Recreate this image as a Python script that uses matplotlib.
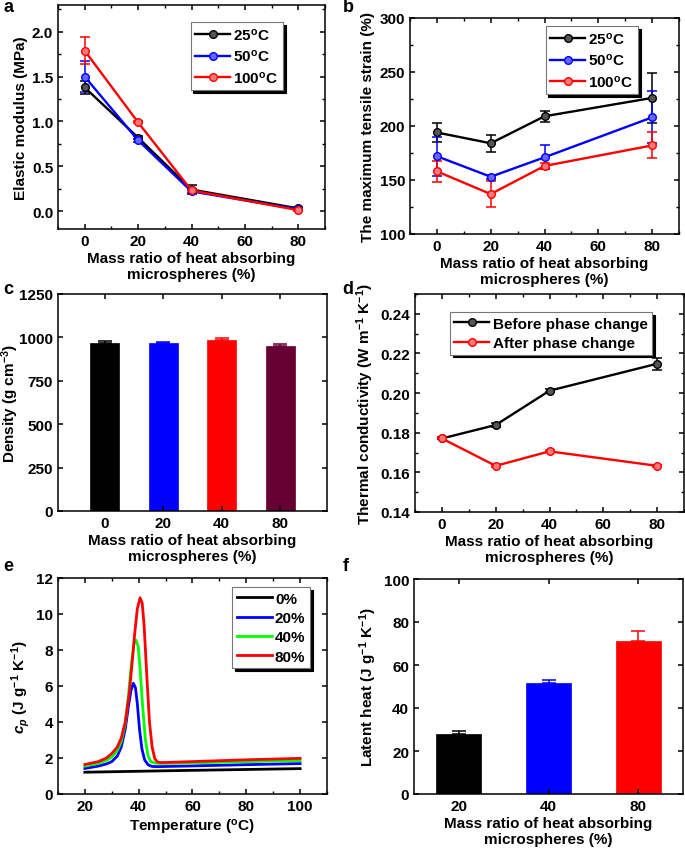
import matplotlib.pyplot as plt
from matplotlib.ticker import MultipleLocator

plt.rcParams['font.family'] = ['Liberation Sans', 'DejaVu Sans']
plt.rcParams['font.weight'] = 'bold'
plt.rcParams['axes.labelweight'] = 'bold'
plt.rcParams['font.size'] = 11
plt.rcParams['mathtext.fontset'] = 'custom'
plt.rcParams['mathtext.rm'] = 'Liberation Sans:bold'
plt.rcParams['mathtext.it'] = 'Liberation Sans:italic:bold'
plt.rcParams['mathtext.bf'] = 'Liberation Sans:bold'
plt.rcParams['mathtext.default'] = 'rm'
plt.rcParams['axes.linewidth'] = 1.1
plt.rcParams['xtick.direction'] = 'in'
plt.rcParams['ytick.direction'] = 'in'
plt.rcParams['xtick.top'] = True
plt.rcParams['ytick.right'] = True
plt.rcParams['xtick.major.size'] = 3.5
plt.rcParams['ytick.major.size'] = 3.5
plt.rcParams['xtick.minor.size'] = 2
plt.rcParams['ytick.minor.size'] = 2
plt.rcParams['xtick.major.width'] = 1.1
plt.rcParams['ytick.major.width'] = 1.1
plt.rcParams['xtick.minor.width'] = 1
plt.rcParams['ytick.minor.width'] = 1

# data
ratio = [0, 20, 40, 80]
temp_labels = ['25$^o$C', '50$^o$C', '100$^o$C']

mod_25 = [1.38, 0.82, 0.24, 0.03]
mod_25_err = [0.07, 0.02, 0.05, 0.01]
mod_50 = [1.50, 0.79, 0.22, 0.02]
mod_50_err = [0.17, 0.02, 0.02, 0.01]
mod_100 = [1.79, 0.99, 0.23, 0.01]
mod_100_err = [0.15, 0.01, 0.02, 0.01]

strain_25 = [194, 184, 209, 226]
strain_25_err = [9, 8, 5, 23]
strain_50 = [172, 153, 171, 208]
strain_50_err = [18, 2, 11, 24]
strain_100 = [158, 137, 163, 182]
strain_100_err = [10, 12, 3, 12]

density_labels = ['0', '20', '40', '80']
density = [970, 966, 983, 948]
density_err = [12, 8, 12, 13]
density_colors = ['#000000', '#0000FF', '#FF0000', '#660033']

phase_labels = ['Before phase change', 'After phase change']
k_before = [0.1771, 0.1839, 0.2012, 0.2148]
k_before_err = [0.0005, 0.0008, 0.0008, 0.003]
k_after = [0.1771, 0.1633, 0.1706, 0.1633]
k_after_err = [0.0005, 0.0005, 0.0005, 0.0005]

cp_labels = ['0%', '20%', '40%', '80%']
T_0 = [20, 50, 100]
cp_0 = [1.21, 1.29, 1.41]
T_20 = [20, 25, 28, 30, 32, 33.5, 35, 36.2, 37.2, 38, 38.8, 39.5, 40.3, 41.2,
        42.2, 43.5, 45, 47, 60, 80, 100]
cp_20 = [1.42, 1.55, 1.67, 1.8, 2.1, 2.6, 3.6, 4.9, 5.8, 6.15, 5.9, 5.0, 3.6, 2.5,
         1.9, 1.62, 1.53, 1.52, 1.56, 1.63, 1.69]
T_40 = [20, 25, 28, 30, 32, 33.5, 35, 36.2, 37.2, 38.2, 39, 39.8, 40.5, 41.5,
        42.5, 43.5, 44.5, 46, 48, 60, 80, 100]
cp_40 = [1.55, 1.7, 1.87, 2.05, 2.4, 2.9, 3.9, 5.5, 7.1, 8.3, 8.55, 8.2, 7.0, 4.8,
         3.0, 2.1, 1.8, 1.72, 1.7, 1.73, 1.8, 1.86]
T_80 = [20, 25, 28, 30, 32, 33.5, 35, 36.5, 37.5, 38.5, 39.5, 40.5, 41.3, 42,
        43, 44, 45, 46, 47, 48, 50, 60, 80, 100]
cp_80 = [1.64, 1.8, 2.0, 2.25, 2.6, 3.1, 4.0, 5.6, 7.2, 8.9, 10.3, 10.9, 10.6, 9.4,
         6.6, 4.0, 2.6, 1.95, 1.78, 1.75, 1.75, 1.8, 1.9, 1.98]

latent_labels = ['20', '40', '80']
latent = [28.1, 51.6, 71.0]
latent_err = [1.0, 1.2, 5.0]
latent_colors = ['#000000', '#0000FF', '#FF0000']

W, H = 685, 853
fig = plt.figure(figsize=(W / 100, H / 100), dpi=100)


def axes_px(l, r, t, b):
    return fig.add_axes([l / W, 1 - b / H, (r - l) / W, (b - t) / H])


def shadow_legend(ax, handles, labels, anchor):
    leg = ax.legend(handles, labels, loc='upper right', bbox_to_anchor=anchor,
                    borderaxespad=0, frameon=True, fancybox=False, framealpha=1,
                    edgecolor='#777777', borderpad=0.3, labelspacing=0.35,
                    handletextpad=0.2, handlelength=2.3,
                    shadow={'color': 'black', 'alpha': 1})
    leg.get_frame().set_linewidth(0.8)
    return leg


def err_lines(ax, series, errs, cols, faces):
    handles = []
    for vals, e, c, fc in zip(series, errs, cols, faces):
        cont = ax.errorbar(ratio, vals, yerr=e, color=c, lw=1.7, marker='o', ms=5.5,
                           mfc=fc, mec=c, capsize=3.5, elinewidth=1.1,
                           capthick=1.1)
        handles.append(cont.lines[0])
    return handles


xlab = 'Mass ratio of heat absorbing\nmicrospheres (%)'
line_cols = ['#000000', '#0000FF', '#FF0000']
face_cols = ['#555555', '#6666FF', '#FF7777']

# a
ax = axes_px(58, 325, 6, 230)
h = err_lines(ax, [mod_25, mod_50, mod_100], [mod_25_err, mod_50_err, mod_100_err],
              line_cols, face_cols)
ax.set_xlim(-10, 90)
ax.set_ylim(-0.2, 2.3)
ax.xaxis.set_major_locator(MultipleLocator(20))
ax.xaxis.set_minor_locator(MultipleLocator(10))
ax.yaxis.set_major_locator(MultipleLocator(0.5))
ax.yaxis.set_minor_locator(MultipleLocator(0.25))
ax.set_ylabel('Elastic modulus (MPa)', labelpad=3)
ax.set_xlabel(xlab, labelpad=2)
shadow_legend(ax, h, temp_labels, (0.843, 0.924))

# b
ax = axes_px(410, 679, 19, 235)
h = err_lines(ax, [strain_25, strain_50, strain_100],
              [strain_25_err, strain_50_err, strain_100_err],
              line_cols, face_cols)
ax.set_xlim(-10, 90)
ax.set_ylim(100, 300)
ax.xaxis.set_major_locator(MultipleLocator(20))
ax.xaxis.set_minor_locator(MultipleLocator(10))
ax.yaxis.set_major_locator(MultipleLocator(50))
ax.yaxis.set_minor_locator(MultipleLocator(25))
ax.set_ylabel('The maximum tensile strain (%)', labelpad=3)
ax.set_xlabel(xlab, labelpad=2)
shadow_legend(ax, h, temp_labels, (0.848, 0.963))

# c
ax = axes_px(58, 327, 295, 512)
xc = range(len(density))
ax.bar(xc, density, width=0.5, color=density_colors, edgecolor=density_colors,
       linewidth=0.5)
for i in xc:
    ax.errorbar(i, density[i], yerr=[[0], [density_err[i]]], color=density_colors[i],
                capsize=5, elinewidth=1.1, capthick=1.1)
ax.set_xlim(-0.8, 3.8)
ax.set_ylim(0, 1250)
ax.set_xticks(list(xc))
ax.set_xticklabels(density_labels)
ax.yaxis.set_major_locator(MultipleLocator(250))
ax.set_ylabel('Density (g cm$^{-3}$)', labelpad=-1)
ax.set_xlabel(xlab, labelpad=2)

# d
ax = axes_px(415, 684, 295, 513)
h = err_lines(ax, [k_before, k_after], [k_before_err, k_after_err],
              ['#000000', '#FF0000'], ['#555555', '#FF7777'])
ax.set_xlim(-10, 90)
ax.set_ylim(0.14, 0.25)
ax.xaxis.set_major_locator(MultipleLocator(20))
ax.xaxis.set_minor_locator(MultipleLocator(10))
ax.yaxis.set_major_locator(MultipleLocator(0.02))
ax.yaxis.set_minor_locator(MultipleLocator(0.01))
ax.set_ylim(0.14, 0.25)
ax.set_ylabel('Thermal conductivity (W m$^{-1}$ K$^{-1}$)', labelpad=3)
ax.set_xlabel(xlab, labelpad=2)
shadow_legend(ax, h, phase_labels, (0.881, 0.917))

# e
ax = axes_px(58, 327, 579, 795)
h = []
for T, cp, c in zip([T_0, T_20, T_40, T_80], [cp_0, cp_20, cp_40, cp_80],
                    ['#000000', '#0000FF', '#00FF00', '#FF0000']):
    h += ax.plot(T, cp, color=c, lw=2)
ax.set_xlim(10, 110)
ax.set_ylim(0, 12)
ax.xaxis.set_major_locator(MultipleLocator(20))
ax.xaxis.set_minor_locator(MultipleLocator(10))
ax.yaxis.set_major_locator(MultipleLocator(2))
ax.set_ylabel('$\\mathit{c}_{\\mathit{p}}$ (J g$^{-1}$ K$^{-1}$)', labelpad=3)
ax.set_xlabel('Temperature ($^o$C)', labelpad=3)
shadow_legend(ax, h, cp_labels, (0.937, 0.958))

# f
ax = axes_px(414, 683, 580, 795)
xf = range(len(latent))
ax.bar(xf, latent, width=0.5, color=latent_colors, edgecolor=latent_colors,
       linewidth=0.5)
for i in xf:
    ax.errorbar(i, latent[i], yerr=[[0], [latent_err[i]]], color=latent_colors[i],
                capsize=5, elinewidth=1.1, capthick=1.1)
ax.set_xlim(-0.5, 2.5)
ax.set_ylim(0, 100)
ax.set_xticks(list(xf))
ax.set_xticklabels(latent_labels)
ax.yaxis.set_major_locator(MultipleLocator(20))
ax.set_ylabel('Latent heat (J g$^{-1}$ K$^{-1}$)', labelpad=3)
ax.set_xlabel(xlab, labelpad=2)

for lab, x, y in [('a', 9, 8), ('b', 348, 8), ('c', 8, 290),
                  ('d', 348, 290), ('e', 8, 567), ('f', 346, 567)]:
    fig.text(x / W, 1 - y / H, lab, fontsize=13, fontweight='bold',
             ha='center', va='center')

fig.savefig('out.png', dpi=100)
